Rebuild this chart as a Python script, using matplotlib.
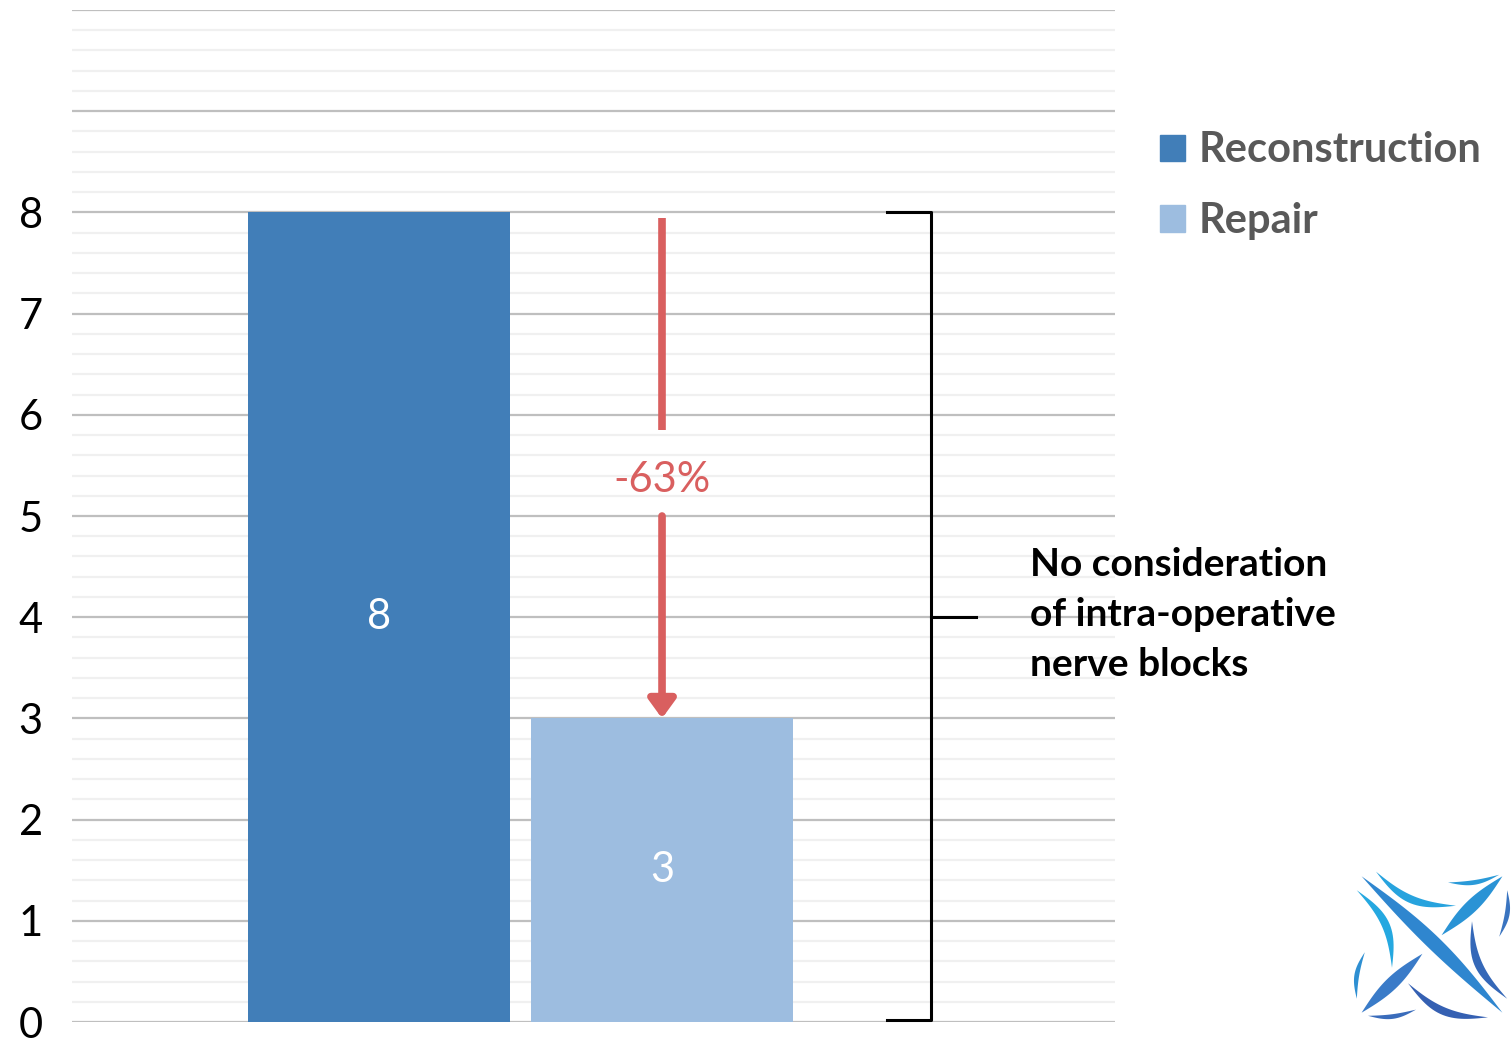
import numpy as np
import matplotlib.pyplot as plt
from matplotlib.patches import Patch, Polygon

# ---------------------------- data ----------------------------
series = ["Reconstruction", "Repair"]
values = [8, 3]
colors = ["#417EB8", "#9DBDE0"]
change_label = "-63%"
note_lines = ["No consideration", "of intra-operative", "nerve blocks"]
y_ticks = list(range(0, 11))
y_tick_labels = [str(t) if t <= 8 else "" for t in y_ticks]

plt.rcParams['font.family'] = ['Lato', 'DejaVu Sans']

fig = plt.figure(figsize=(15.11, 10.44), dpi=100)
ax = fig.add_axes([72/1511, 1-1022/1044, (1115-72)/1511, (1022-10)/1044])

width = 0.2512
offsets = [-0.1357, 0.1357]
for v, c, off, name in zip(values, colors, offsets, series):
    ax.bar(0 + off, v, width=width, color=c, label=name, zorder=3)
    ax.text(0 + off, v / 2, str(v), ha="center", va="center", color="white",
            fontsize=30, zorder=4)

ax.set_xlim(-0.43, 0.57)
ax.set_ylim(0, 10)
ax.set_xticks([])
ax.set_yticks(y_ticks)
ax.set_yticklabels(y_tick_labels, fontsize=30)
ax.set_yticks(np.arange(0, 10.01, 0.2), minor=True)
ax.tick_params(axis="y", which="both", length=0, pad=21)
ax.grid(axis="y", which="major", color="#BFBFBF", linewidth=1.6, zorder=1)
ax.grid(axis="y", which="minor", color="#F0F0F0", linewidth=1.6, zorder=0)
for s in ax.spines.values():
    s.set_visible(False)

# arrow showing the drop
ax_x = offsets[1]
red = "#D95F5F"
ax.plot([ax_x, ax_x], [values[0] - 0.06, 5.85], color=red, linewidth=5.5,
        solid_capstyle="butt", zorder=5)
ax.annotate("", xy=(ax_x, values[1]), xytext=(ax_x, 5.0),
            arrowprops=dict(arrowstyle="-|>,head_length=1.1,head_width=0.8",
                            color=red, lw=5.5, shrinkA=0, shrinkB=0), zorder=5)
ax.text(ax_x, 5.36, change_label, ha="center", va="center", color=red, fontsize=30)

# bracket
bx0, bx1, bx2 = 0.3514, 0.3936, 0.4367
ax.plot([bx0, bx1, bx1, bx0], [values[0], values[0], 0.02, 0.02], color="black",
        linewidth=2.2, clip_on=False, zorder=5)
ax.plot([bx1, bx2], [4, 4], color="black", linewidth=2.2, clip_on=False, zorder=5)

for i, line in enumerate(note_lines):
    fig.text(1030/1511, 1 - (565 + 50*i)/1044, line, ha="left", va="center",
             fontsize=28, fontweight="bold", color="black")

# legend
handles = [Patch(color=c, label=n) for c, n in zip(colors, series)]
leg = fig.legend(handles=handles, loc="upper left",
                 bbox_to_anchor=(1122/1511, 1 - 94/1044), frameon=False,
                 fontsize=30, handlelength=0.6, handleheight=0.6,
                 handletextpad=0.35, labelspacing=0.79)
for t in leg.get_texts():
    t.set_color("#595959")
    t.set_fontweight("bold")

# logo (rough)
lax = fig.add_axes([1352/1511, 1 - 1022/1044, 160/1511, 155/1044])
lax.set_xlim(0, 1)
lax.set_ylim(0, 1)
lax.axis("off")


def blade(p0, p1, bulge, color):
    p0 = np.array(p0)
    p1 = np.array(p1)
    t = np.linspace(0, 1, 30)
    d = p1 - p0
    n = np.array([-d[1], d[0]])
    n = n / np.linalg.norm(n)
    base = p0[None, :] + t[:, None] * d[None, :]
    curve = np.sin(np.pi * t)[:, None] * n[None, :]
    upper = base + curve * bulge[0]
    lower = base + curve * bulge[1]
    pts = np.vstack([upper, lower[::-1]])
    lax.add_patch(Polygon(pts, closed=True, color=color, lw=0))


blade((0.06, 0.94), (0.94, 0.06), (0.06, -0.03), "#2F86CF")
blade((0.06, 0.06), (0.44, 0.44), (0.04, -0.04), "#3A7BC8")
blade((0.56, 0.56), (0.94, 0.94), (0.04, -0.04), "#2A93D5")
blade((0.15, 0.97), (0.65, 0.75), (-0.10, -0.05), "#27A3DE")
blade((0.6, 0.9), (0.92, 0.95), (-0.04, -0.01), "#2A9AD8")
blade((0.03, 0.85), (0.25, 0.35), (0.10, 0.05), "#25A8E0")
blade((0.03, 0.15), (0.08, 0.45), (0.04, 0.01), "#2E8FD2")
blade((0.97, 0.15), (0.75, 0.65), (0.10, 0.05), "#3568B8")
blade((0.97, 0.85), (0.92, 0.55), (0.04, 0.01), "#3A74C0")
blade((0.85, 0.03), (0.35, 0.25), (0.10, 0.05), "#3560B2")
blade((0.40, 0.08), (0.1, 0.04), (0.04, 0.01), "#3A6CBB")

fig.savefig("out.png", dpi=100)
